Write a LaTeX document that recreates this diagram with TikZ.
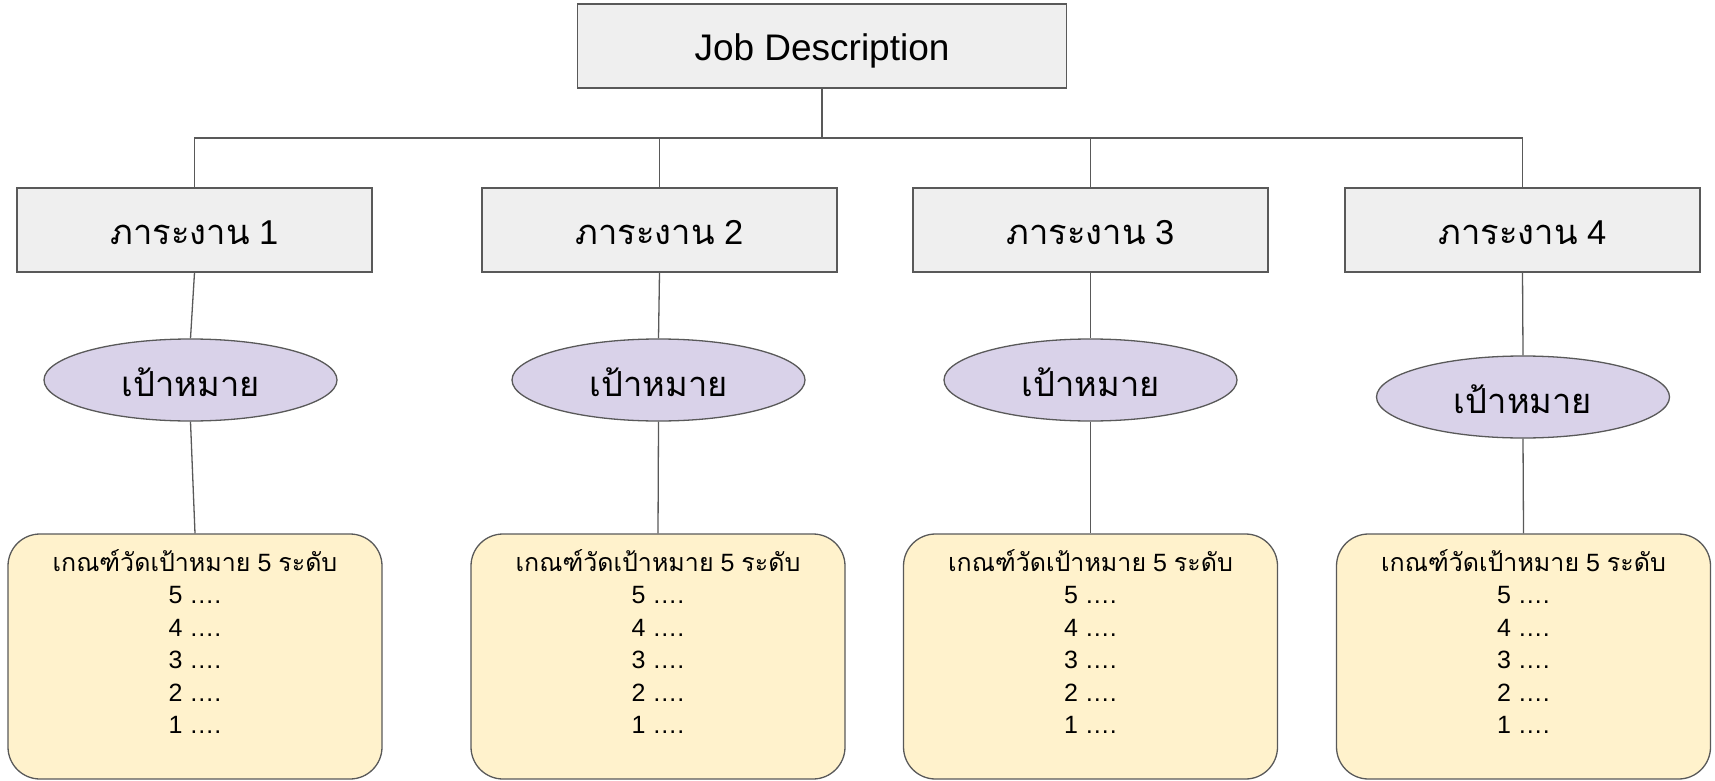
\documentclass[tikz,border=0pt]{standalone}
\usepackage{fontspec}
\setmainfont{Liberation Sans}
\newfontfamily\thai[Script=Thai]{Loma}
\usetikzlibrary{shapes.geometric}
\definecolor{edge}{HTML}{595959}
\definecolor{boxgray}{HTML}{EFEFEF}
\definecolor{goalpurple}{HTML}{D9D2E9}
\definecolor{scaleyellow}{HTML}{FFF2CC}
% task caption, set slightly low in its box
\newcommand\tasklabel[1]{\raisebox{-3pt}[\height][\depth]{{\thai ภาระงาน} #1}}
% goal caption
\newcommand\goallabel{\raisebox{-2pt}[\height][\depth]{\thai เป้าหมาย}}

\begin{document}
\begin{tikzpicture}[x=1pt,y=-1pt,
  link/.style={draw=edge,line width=1.3pt},
  jobbox/.style={draw=edge,fill=boxgray,line width=1.3pt,minimum width=489pt,minimum height=84pt,inner sep=0pt,text depth=0pt,font=\fontsize{37}{44}\selectfont},
  taskbox/.style={draw=edge,fill=boxgray,line width=1.3pt,minimum width=355pt,minimum height=84pt,inner sep=0pt,font=\fontsize{34.5}{40}\selectfont},
  goal/.style={ellipse,draw=edge,fill=goalpurple,line width=1.3pt,minimum width=293pt,minimum height=82pt,inner sep=0pt,font=\fontsize{34.5}{40}\selectfont},
  scalebox/.style={draw=edge,fill=scaleyellow,line width=1.3pt,rounded corners=32pt,minimum width=374pt,minimum height=245pt,inner sep=0pt},
  scaletext/.style={anchor=north,align=center,inner sep=0pt,font=\fontsize{25}{32.5}\selectfont}]

\useasboundingbox (0,0) rectangle (1715,781);

% top level
\node[jobbox] (jd) at (822,46) {\raisebox{-2pt}{Job Description}};

% tasks
\node[taskbox] (t1) at (194.5,230) {\tasklabel{1}};
\node[taskbox] (t2) at (659.5,230) {\tasklabel{2}};
\node[taskbox] (t3) at (1090.5,230) {\tasklabel{3}};
\node[taskbox] (t4) at (1522.5,230) {\tasklabel{4}};

% goals
\node[goal] (g1) at (190.5,380) {\goallabel};
\node[goal] (g2) at (658.5,380) {\goallabel};
\node[goal] (g3) at (1090.5,380) {\goallabel};
\node[goal] (g4) at (1523,397) {\goallabel};

% five-level scales
\foreach \i/\x in {1/195,2/658,3/1090.5,4/1523.5}{
  \node[scalebox] (s\i) at (\x,656.5) {};
  \node[scaletext] (s\i t) at ([yshift=-16pt]s\i.north)
    {{\thai เกณฑ์วัดเป้าหมาย} 5 {\thai ระดับ}\\5 ….\\4 ….\\3 ….\\2 ….\\1 ….};
}

% connectors
\coordinate (bus) at (0,138);
\draw[link] (jd.south) -- (jd.south |- bus);
\draw[link] (t1.north) -- (t1.north |- bus) -- (t4.north |- bus) -- (t4.north);
\draw[link] (t2.north) -- (t2.north |- bus);
\draw[link] (t3.north) -- (t3.north |- bus);
\foreach \i in {1,2,3,4}{
  \draw[link] (t\i.south) -- (g\i.north);
  \draw[link] (g\i.south) -- (s\i.north);
}
\end{tikzpicture}
\end{document}
